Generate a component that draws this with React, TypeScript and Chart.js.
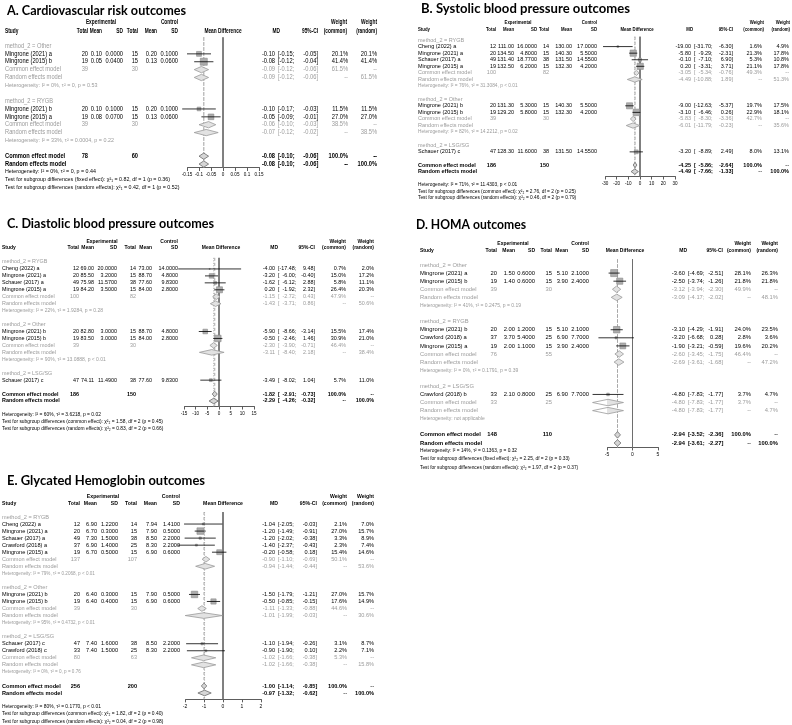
import React, { useEffect, useRef } from "react";
import { Chart, registerables } from "chart.js";

Chart.register(...registerables);

const W = 792;
const H = 725;
const FONT = '"Liberation Sans", Arial, Helvetica, sans-serif';
const TITLE_FONT = 'Lato, "Open Sans", sans-serif';
const BLACK = "#000000";
const GREY = "#9b9b9b";

// ---------------- A. Cardiovascular risk ----------------
const A_TITLE = "A. Cardiovascular risk outcomes";
const A_GROUPS = ["method_2 = Other", "method_2 = RYGB"];
const A_STUDY = ["Mingrone (2021) a", "Mingrone (2015) b", "Mingrone (2021) b", "Mingrone (2015) a"];
const A_GROUP_OF = [0, 0, 1, 1];
const A_N_E = [20, 19, 20, 19];
const A_MEAN_E = [0.1, 0.05, 0.1, 0.08];
const A_SD_E = [0.0, 0.04, 0.1, 0.07];
const A_N_C = [15, 15, 15, 15];
const A_MEAN_C = [0.2, 0.13, 0.2, 0.13];
const A_SD_C = [0.1, 0.06, 0.1, 0.06];
const A_MD = [-0.1, -0.08, -0.1, -0.05];
const A_LO = [-0.15, -0.12, -0.17, -0.09];
const A_HI = [-0.05, -0.04, -0.03, -0.01];
const A_W_COMMON = [20.1, 41.4, 11.5, 27.0];
const A_W_RANDOM = [20.1, 41.4, 11.5, 27.0];
const A_SUB_N_E = [39, 39];
const A_SUB_N_C = [30, 30];
const A_SUB_COMMON_MD = [-0.09, -0.06];
const A_SUB_COMMON_LO = [-0.12, -0.1];
const A_SUB_COMMON_HI = [-0.06, -0.03];
const A_SUB_COMMON_W = [61.5, 38.5];
const A_SUB_RANDOM_MD = [-0.09, -0.07];
const A_SUB_RANDOM_LO = [-0.12, -0.12];
const A_SUB_RANDOM_HI = [-0.06, -0.02];
const A_SUB_RANDOM_W = [61.5, 38.5];
const A_SUB_HET = ["Heterogeneity: I² = 0%, τ² = 0, p = 0.53", "Heterogeneity: I² = 33%, τ² = 0.0004, p = 0.22"];
const A_TOTAL = [78, 60];
const A_OVERALL_COMMON = [-0.08, -0.1, -0.06];
const A_OVERALL_RANDOM = [-0.08, -0.1, -0.06];
const A_NOTES = [
  "Heterogeneity: I² = 0%, τ² = 0, p = 0.44",
  "Test for subgroup differences (fixed effect): χ²₁ = 0.82, df = 1 (p = 0.36)",
  "Test for subgroup differences (random effects): χ²₁ = 0.42, df = 1 (p = 0.52)",
];
const A_TICKS = [-0.15, -0.1, -0.05, 0, 0.05, 0.1, 0.15];

// ---------------- B. Systolic blood pressure ----------------
const B_TITLE = "B. Systolic blood pressure outcomes";
const B_GROUPS = ["method_2 = RYGB", "method_2 = Other", "method_2 = LSG/SG"];
const B_STUDY = ["Cheng (2022) a", "Mingrone (2021) a", "Schauer (2017) a", "Mingrone (2015) a", "Mingrone (2021) b", "Mingrone (2015) b", "Schauer (2017) c"];
const B_GROUP_OF = [0, 0, 0, 0, 1, 1, 2];
const B_N_E = [12, 20, 49, 19, 20, 19, 47];
const B_MEAN_E = [111.0, 134.5, 131.4, 132.5, 131.3, 129.2, 128.3];
const B_SD_E = [16.0, 4.8, 18.77, 6.2, 5.3, 5.8, 11.6];
const B_N_C = [14, 15, 38, 15, 15, 15, 38];
const B_MEAN_C = [130.0, 140.3, 131.5, 132.3, 140.3, 132.3, 131.5];
const B_SD_C = [17.0, 5.5, 14.55, 4.2, 5.5, 4.2, 14.55];
const B_MD = [-19.0, -5.8, -0.1, 0.2, -9.0, -3.1, -3.2];
const B_LO = [-31.7, -9.29, -7.1, -3.31, -12.63, -6.46, -8.89];
const B_HI = [-6.3, -2.31, 6.9, 3.71, -5.37, 0.26, 2.49];
const B_W_COMMON = [1.6, 21.3, 5.3, 21.1, 19.7, 22.9, 8.0];
const B_W_RANDOM = [4.9, 17.8, 10.8, 17.8, 17.5, 18.1, 13.1];
const B_SUB_N_E = [100, 39, null];
const B_SUB_N_C = [82, 30, null];
const B_SUB_COMMON_MD = [-3.05, -5.83, null];
const B_SUB_COMMON_LO = [-5.34, -8.3, null];
const B_SUB_COMMON_HI = [-0.76, -3.36, null];
const B_SUB_COMMON_W = [49.3, 42.7, null];
const B_SUB_RANDOM_MD = [-4.49, -6.01, null];
const B_SUB_RANDOM_LO = [-10.88, -11.79, null];
const B_SUB_RANDOM_HI = [1.89, -0.23, null];
const B_SUB_RANDOM_W = [51.3, 35.6, null];
const B_SUB_HET = ["Heterogeneity: I² = 76%, τ² = 31.3084, p < 0.01", "Heterogeneity: I² = 82%, τ² = 14.2212, p = 0.02", null];
const B_TOTAL = [186, 150];
const B_OVERALL_COMMON = [-4.25, -5.86, -2.64];
const B_OVERALL_RANDOM = [-4.49, -7.66, -1.33];
const B_NOTES = [
  "Heterogeneity: I² = 71%, τ² = 11.4303, p < 0.01",
  "Test for subgroup differences (common effect): χ²₂ = 2.76, df = 2 (p = 0.25)",
  "Test for subgroup differences (random effects): χ²₂ = 0.46, df = 2 (p = 0.79)",
];
const B_TICKS = [-30, -20, -10, 0, 10, 20, 30];

// ---------------- C. Diastolic blood pressure ----------------
const C_TITLE = "C. Diastolic blood pressure outcomes";
const C_GROUPS = ["method_2 = RYGB", "method_2 = Other", "method_2 = LSG/SG"];
const C_STUDY = ["Cheng (2022) a", "Mingrone (2021) a", "Schauer (2017) a", "Mingrone (2015) a", "Mingrone (2021) b", "Mingrone (2015) b", "Schauer (2017) c"];
const C_GROUP_OF = [0, 0, 0, 0, 1, 1, 2];
const C_N_E = [12, 20, 49, 19, 20, 19, 47];
const C_MEAN_E = [69.0, 85.5, 75.98, 84.2, 82.8, 83.5, 74.11];
const C_SD_E = [20.0, 3.2, 11.57, 3.5, 3.0, 3.0, 11.49];
const C_N_C = [14, 15, 38, 15, 15, 15, 38];
const C_MEAN_C = [73.0, 88.7, 77.6, 84.0, 88.7, 84.0, 77.6];
const C_SD_C = [14.0, 4.8, 9.83, 2.8, 4.8, 2.8, 9.83];
const C_MD = [-4.0, -3.2, -1.62, 0.2, -5.9, -0.5, -3.49];
const C_LO = [-17.48, -6.0, -6.12, -1.92, -8.66, -2.46, -8.02];
const C_HI = [9.48, -0.4, 2.88, 2.32, -3.14, 1.46, 1.04];
const C_W_COMMON = [0.7, 15.0, 5.8, 26.4, 15.5, 30.9, 5.7];
const C_W_RANDOM = [2.0, 17.2, 11.1, 20.3, 17.4, 21.0, 11.0];
const C_SUB_N_E = [100, 39, null];
const C_SUB_N_C = [82, 30, null];
const C_SUB_COMMON_MD = [-1.15, -2.3, null];
const C_SUB_COMMON_LO = [-2.72, -3.9, null];
const C_SUB_COMMON_HI = [0.43, -0.71, null];
const C_SUB_COMMON_W = [47.9, 46.4, null];
const C_SUB_RANDOM_MD = [-1.43, -3.11, null];
const C_SUB_RANDOM_LO = [-3.71, -8.4, null];
const C_SUB_RANDOM_HI = [0.86, 2.18, null];
const C_SUB_RANDOM_W = [50.6, 38.4, null];
const C_SUB_HET = ["Heterogeneity: I² = 22%, τ² = 1.9284, p = 0.28", "Heterogeneity: I² = 90%, τ² = 13.0888, p < 0.01", null];
const C_TOTAL = [186, 150];
const C_OVERALL_COMMON = [-1.82, -2.91, -0.73];
const C_OVERALL_RANDOM = [-2.29, -4.26, -0.32];
const C_NOTES = [
  "Heterogeneity: I² = 60%, τ² = 3.6218, p = 0.02",
  "Test for subgroup differences (common effect): χ²₂ = 1.58, df = 2 (p = 0.45)",
  "Test for subgroup differences (random effects): χ²₂ = 0.83, df = 2 (p = 0.66)",
];
const C_TICKS = [-15, -10, -5, 0, 5, 10, 15];

// ---------------- D. HOMA ----------------
const D_TITLE = "D. HOMA outcomes";
const D_GROUPS = ["method_2 = Other", "method_2 = RYGB", "method_2 = LSG/SG"];
const D_STUDY = ["Mingrone (2021) a", "Mingrone (2015) b", "Mingrone (2021) b", "Crawford (2018) a", "Mingrone (2015) a", "Crawford (2018) b"];
const D_GROUP_OF = [0, 0, 1, 1, 1, 2];
const D_N_E = [20, 19, 20, 37, 19, 33];
const D_MEAN_E = [1.5, 1.4, 2.0, 3.7, 2.0, 2.1];
const D_SD_E = [0.6, 0.6, 1.2, 5.4, 1.1, 0.8];
const D_N_C = [15, 15, 15, 25, 15, 25];
const D_MEAN_C = [5.1, 3.9, 5.1, 6.9, 3.9, 6.9];
const D_SD_C = [2.1, 2.4, 2.1, 7.7, 2.4, 7.7];
const D_MD = [-3.6, -2.5, -3.1, -3.2, -1.9, -4.8];
const D_LO = [-4.69, -3.74, -4.29, -6.68, -3.21, -7.83];
const D_HI = [-2.51, -1.26, -1.91, 0.28, -0.59, -1.77];
const D_W_COMMON = [28.1, 21.8, 24.0, 2.8, 19.6, 3.7];
const D_W_RANDOM = [26.3, 21.8, 23.5, 3.6, 20.2, 4.7];
const D_SUB_N_E = [39, 76, 33];
const D_SUB_N_C = [30, 55, 25];
const D_SUB_COMMON_MD = [-3.12, -2.6, -4.8];
const D_SUB_COMMON_LO = [-3.94, -3.45, -7.83];
const D_SUB_COMMON_HI = [-2.3, -1.75, -1.77];
const D_SUB_COMMON_W = [49.9, 46.4, 3.7];
const D_SUB_RANDOM_MD = [-3.09, -2.69, -4.8];
const D_SUB_RANDOM_LO = [-4.17, -3.61, -7.83];
const D_SUB_RANDOM_HI = [-2.02, -1.68, -1.77];
const D_SUB_RANDOM_W = [48.1, 47.2, 4.7];
const D_SUB_HET = ["Heterogeneity: I² = 41%, τ² = 0.2475, p = 0.19", "Heterogeneity: I² = 0%, τ² = 0.1791, p = 0.39", "Heterogeneity: not applicable"];
const D_TOTAL = [148, 110];
const D_OVERALL_COMMON = [-2.94, -3.52, -2.36];
const D_OVERALL_RANDOM = [-2.94, -3.61, -2.27];
const D_NOTES = [
  "Heterogeneity: I² = 14%, τ² = 0.1363, p = 0.32",
  "Test for subgroup differences (fixed effect): χ²₂ = 2.25, df = 2 (p = 0.33)",
  "Test for subgroup differences (random effects): χ²₂ = 1.97, df = 2 (p = 0.37)",
];
const D_TICKS = [-5, 0, 5];

// ---------------- E. Glycated Hemoglobin ----------------
const E_TITLE = "E. Glycated Hemoglobin outcomes";
const E_GROUPS = ["method_2 = RYGB", "method_2 = Other", "method_2 = LSG/SG"];
const E_STUDY = ["Cheng (2022) a", "Mingrone (2021) a", "Schauer (2017) a", "Crawford (2018) a", "Mingrone (2015) a", "Mingrone (2021) b", "Mingrone (2015) b", "Schauer (2017) c", "Crawford (2018) c"];
const E_GROUP_OF = [0, 0, 0, 0, 0, 1, 1, 2, 2];
const E_N_E = [12, 20, 49, 37, 19, 20, 19, 47, 33];
const E_MEAN_E = [6.9, 6.7, 7.3, 6.9, 6.7, 6.4, 6.4, 7.4, 7.4];
const E_SD_E = [1.22, 0.3, 1.5, 1.4, 0.5, 0.3, 0.4, 1.6, 1.5];
const E_N_C = [14, 15, 38, 25, 15, 15, 15, 38, 25];
const E_MEAN_C = [7.94, 7.9, 8.5, 8.3, 6.9, 7.9, 6.9, 8.5, 8.3];
const E_SD_C = [1.41, 0.5, 2.2, 2.2, 0.6, 0.5, 0.6, 2.2, 2.2];
const E_MD = [-1.04, -1.2, -1.2, -1.4, -0.2, -1.5, -0.5, -1.1, -0.9];
const E_LO = [-2.05, -1.49, -2.02, -2.37, -0.58, -1.79, -0.85, -1.94, -1.9];
const E_HI = [-0.03, -0.91, -0.38, -0.43, 0.18, -1.21, -0.15, -0.26, 0.1];
const E_W_COMMON = [2.1, 27.0, 3.3, 2.3, 15.4, 27.0, 17.6, 3.1, 2.2];
const E_W_RANDOM = [7.0, 15.7, 8.9, 7.4, 14.6, 15.7, 14.9, 8.7, 7.1];
const E_SUB_N_E = [137, 39, 80];
const E_SUB_N_C = [107, 30, 63];
const E_SUB_COMMON_MD = [-0.9, -1.11, -1.02];
const E_SUB_COMMON_LO = [-1.1, -1.33, -1.66];
const E_SUB_COMMON_HI = [-0.69, -0.88, -0.38];
const E_SUB_COMMON_W = [50.1, 44.6, 5.3];
const E_SUB_RANDOM_MD = [-0.94, -1.01, -1.02];
const E_SUB_RANDOM_LO = [-1.44, -1.99, -1.66];
const E_SUB_RANDOM_HI = [-0.44, -0.03, -0.38];
const E_SUB_RANDOM_W = [53.6, 30.6, 15.8];
const E_SUB_HET = ["Heterogeneity: I² = 79%, τ² = 0.2068, p < 0.01", "Heterogeneity: I² = 95%, τ² = 0.4732, p < 0.01", "Heterogeneity: I² = 0%, τ² = 0, p = 0.76"];
const E_TOTAL = [256, 200];
const E_OVERALL_COMMON = [-1.0, -1.14, -0.85];
const E_OVERALL_RANDOM = [-0.97, -1.32, -0.62];
const E_NOTES = [
  "Heterogeneity: I² = 80%, τ² = 0.1770, p < 0.01",
  "Test for subgroup differences (common effect): χ²₂ = 1.82, df = 2 (p = 0.40)",
  "Test for subgroup differences (random effects): χ²₂ = 0.04, df = 2 (p = 0.98)",
];
const E_TICKS = [-2, -1, 0, 1, 2];

// ---------------- layouts (page pixel positions) ----------------
const A_LAYOUT = {
  titleX: 7, titleY: 11, titleW: 179, hdr1Y: 22, hdr2Y: 31, row0Y: 46, pitch: 7.87,
  fs: 6.3, sx: 0.91, hdrSx: 0.84, hetFs: 5.4, noteFs: 5.3, tickFs: 4.6, yMin: -1.1, yMax: 15.5, hetGap: 0, axisH: 12,
  xStudy: 5, xNE: 88, xME: 102, xSDE: 123, xNC: 138, xMC: 157, xSDC: 178, xExpHdr: 101, xCtrlHdr: 178,
  plotL: 187, plotR: 259, xMDHdr: 223, xMD: 275, xMDH: 280, xCIL: 278, xCIR: 318, xWC: 348, xWR: 377, xWCH: 347, xWRH: 377,
  maxSide: 7,
};
const B_LAYOUT = {
  titleX: 421, titleY: 9, titleW: 209, hdr1Y: 22, hdr2Y: 29, row0Y: 40, pitch: 6.58,
  fs: 5.5, sx: 1, hdrSx: 0.78, hetFs: 4.8, noteFs: 4.8, tickFs: 4.6, yMin: -0.5, yMax: 20.75, hetGap: 1, axisH: 12,
  xStudy: 418, xNE: 496, xME: 514, xSDE: 537, xNC: 549, xMC: 572, xSDC: 597, xExpHdr: 518, xCtrlHdr: 597,
  plotL: 605, plotR: 675, xMDHdr: 637, xMD: 691, xMDH: 693, xCIL: 694, xCIR: 733, xWC: 762, xWR: 789, xWCH: 764, xWRH: 790,
  maxSide: 6.5,
};
const C_LAYOUT = {
  titleX: 7, titleY: 224, titleW: 207, hdr1Y: 242, hdr2Y: 248, row0Y: 262, pitch: 6.95,
  fs: 5.4, sx: 1, hdrSx: 0.92, hetFs: 5.0, noteFs: 4.9, tickFs: 4.6, yMin: -0.6, yMax: 20.8, hetGap: 1, axisH: 12,
  xStudy: 2, xNE: 79, xME: 94, xSDE: 117, xNC: 136, xMC: 152, xSDC: 178, xExpHdr: 102, xCtrlHdr: 178,
  plotL: 184, plotR: 254, xMDHdr: 221, xMD: 275, xMDH: 278, xCIL: 278, xCIR: 315, xWC: 346, xWR: 374, xWCH: 346, xWRH: 374,
  maxSide: 6.5,
};
const D_LAYOUT = {
  titleX: 416, titleY: 225, titleW: 110, hdr1Y: 243, hdr2Y: 250, row0Y: 265, pitch: 8.09,
  fs: 5.8, sx: 1, hdrSx: 0.86, hetFs: 5.0, noteFs: 4.8, tickFs: 5, yMin: -0.7, yMax: 22.55, hetGap: 0, axisH: 12,
  xStudy: 420, xNE: 497, xME: 515, xSDE: 535, xNC: 552, xMC: 568, xSDC: 589, xExpHdr: 513, xCtrlHdr: 589,
  plotL: 607, plotR: 658, xMDHdr: 625, xMD: 685, xMDH: 687, xCIL: 688, xCIR: 723, xWC: 751, xWR: 778, xWCH: 751, xWRH: 778,
  maxSide: 7,
};
const E_LAYOUT = {
  titleX: 7, titleY: 481, titleW: 198, hdr1Y: 496, hdr2Y: 503, row0Y: 517, pitch: 7.04,
  fs: 5.6, sx: 1, hdrSx: 0.92, hetFs: 4.6, noteFs: 4.9, tickFs: 5, yMin: -0.7, yMax: 25.9, hetGap: 1, axisH: 12,
  xStudy: 2, xNE: 80, xME: 97, xSDE: 118, xNC: 137, xMC: 157, xSDC: 180, xExpHdr: 103, xCtrlHdr: 180,
  plotL: 185, plotR: 261, xMDHdr: 223, xMD: 275, xMDH: 278, xCIL: 278, xCIR: 317, xWC: 347, xWR: 374, xWCH: 347, xWRH: 374,
  maxSide: 6.5,
};

const PANELS: any[] = [
  { key: "A", title: A_TITLE, groups: A_GROUPS, study: A_STUDY, groupOf: A_GROUP_OF, nE: A_N_E, meanE: A_MEAN_E, sdE: A_SD_E, nC: A_N_C, meanC: A_MEAN_C, sdC: A_SD_C, md: A_MD, lo: A_LO, hi: A_HI, wC: A_W_COMMON, wR: A_W_RANDOM, subNE: A_SUB_N_E, subNC: A_SUB_N_C, subC: [A_SUB_COMMON_MD, A_SUB_COMMON_LO, A_SUB_COMMON_HI, A_SUB_COMMON_W], subR: [A_SUB_RANDOM_MD, A_SUB_RANDOM_LO, A_SUB_RANDOM_HI, A_SUB_RANDOM_W], subHet: A_SUB_HET, total: A_TOTAL, allC: A_OVERALL_COMMON, allR: A_OVERALL_RANDOM, notes: A_NOTES, ticks: A_TICKS, L: A_LAYOUT },
  { key: "B", title: B_TITLE, groups: B_GROUPS, study: B_STUDY, groupOf: B_GROUP_OF, nE: B_N_E, meanE: B_MEAN_E, sdE: B_SD_E, nC: B_N_C, meanC: B_MEAN_C, sdC: B_SD_C, md: B_MD, lo: B_LO, hi: B_HI, wC: B_W_COMMON, wR: B_W_RANDOM, subNE: B_SUB_N_E, subNC: B_SUB_N_C, subC: [B_SUB_COMMON_MD, B_SUB_COMMON_LO, B_SUB_COMMON_HI, B_SUB_COMMON_W], subR: [B_SUB_RANDOM_MD, B_SUB_RANDOM_LO, B_SUB_RANDOM_HI, B_SUB_RANDOM_W], subHet: B_SUB_HET, total: B_TOTAL, allC: B_OVERALL_COMMON, allR: B_OVERALL_RANDOM, notes: B_NOTES, ticks: B_TICKS, L: B_LAYOUT },
  { key: "C", title: C_TITLE, groups: C_GROUPS, study: C_STUDY, groupOf: C_GROUP_OF, nE: C_N_E, meanE: C_MEAN_E, sdE: C_SD_E, nC: C_N_C, meanC: C_MEAN_C, sdC: C_SD_C, md: C_MD, lo: C_LO, hi: C_HI, wC: C_W_COMMON, wR: C_W_RANDOM, subNE: C_SUB_N_E, subNC: C_SUB_N_C, subC: [C_SUB_COMMON_MD, C_SUB_COMMON_LO, C_SUB_COMMON_HI, C_SUB_COMMON_W], subR: [C_SUB_RANDOM_MD, C_SUB_RANDOM_LO, C_SUB_RANDOM_HI, C_SUB_RANDOM_W], subHet: C_SUB_HET, total: C_TOTAL, allC: C_OVERALL_COMMON, allR: C_OVERALL_RANDOM, notes: C_NOTES, ticks: C_TICKS, L: C_LAYOUT },
  { key: "D", title: D_TITLE, groups: D_GROUPS, study: D_STUDY, groupOf: D_GROUP_OF, nE: D_N_E, meanE: D_MEAN_E, sdE: D_SD_E, nC: D_N_C, meanC: D_MEAN_C, sdC: D_SD_C, md: D_MD, lo: D_LO, hi: D_HI, wC: D_W_COMMON, wR: D_W_RANDOM, subNE: D_SUB_N_E, subNC: D_SUB_N_C, subC: [D_SUB_COMMON_MD, D_SUB_COMMON_LO, D_SUB_COMMON_HI, D_SUB_COMMON_W], subR: [D_SUB_RANDOM_MD, D_SUB_RANDOM_LO, D_SUB_RANDOM_HI, D_SUB_RANDOM_W], subHet: D_SUB_HET, total: D_TOTAL, allC: D_OVERALL_COMMON, allR: D_OVERALL_RANDOM, notes: D_NOTES, ticks: D_TICKS, L: D_LAYOUT },
  { key: "E", title: E_TITLE, groups: E_GROUPS, study: E_STUDY, groupOf: E_GROUP_OF, nE: E_N_E, meanE: E_MEAN_E, sdE: E_SD_E, nC: E_N_C, meanC: E_MEAN_C, sdC: E_SD_C, md: E_MD, lo: E_LO, hi: E_HI, wC: E_W_COMMON, wR: E_W_RANDOM, subNE: E_SUB_N_E, subNC: E_SUB_N_C, subC: [E_SUB_COMMON_MD, E_SUB_COMMON_LO, E_SUB_COMMON_HI, E_SUB_COMMON_W], subR: [E_SUB_RANDOM_MD, E_SUB_RANDOM_LO, E_SUB_RANDOM_HI, E_SUB_RANDOM_W], subHet: E_SUB_HET, total: E_TOTAL, allC: E_OVERALL_COMMON, allR: E_OVERALL_RANDOM, notes: E_NOTES, ticks: E_TICKS, L: E_LAYOUT },
];

// ---------------- helpers ----------------
function buildRows(p: any) {
  const rows: any[] = [];
  let r = 0;
  p.groups.forEach((_g: string, gi: number) => {
    rows.push({ kind: "group", r: r++, gi });
    p.groupOf.forEach((go: number, si: number) => {
      if (go === gi) rows.push({ kind: "study", r: r++, si });
    });
    if (p.subC[0][gi] != null) {
      rows.push({ kind: "subC", r: r++, gi });
      rows.push({ kind: "subR", r: r++, gi });
      rows.push({ kind: "subHet", r: r++, gi });
    }
    r++;
  });
  rows.push({ kind: "allC", r: r++ });
  rows.push({ kind: "allR", r: r++ });
  r += p.L.hetGap;
  p.notes.forEach((_n: string, ni: number) => rows.push({ kind: "note", r: r++, ni }));
  return rows;
}

function setFont(ctx: CanvasRenderingContext2D, size: number, bold: boolean, family = FONT) {
  ctx.font = `${bold ? "bold " : ""}${size}px ${family}`;
}

function drawT(ctx: CanvasRenderingContext2D, s: string, x: number, y: number, align: CanvasTextAlign, size: number, color: string, bold: boolean, sx: number, family = FONT) {
  ctx.save();
  setFont(ctx, size, bold, family);
  ctx.fillStyle = color;
  ctx.textAlign = align;
  ctx.textBaseline = "middle";
  ctx.translate(x, y);
  ctx.scale(sx, 1);
  ctx.fillText(s, 0, 0);
  ctx.restore();
}

const pct = (v: number) => v.toFixed(1) + "%";

function ForestPanel({ p }: { p: any }) {
  const ref = useRef<HTMLCanvasElement | null>(null);
  useEffect(() => {
    const L = p.L;
    const rows = buildRows(p);
    const top = L.row0Y + L.yMin * L.pitch;
    const bottom = L.row0Y + L.yMax * L.pitch;
    const datasets: any[] = [];

    const vline = (x: number, dash: number[], color: string) => ({
      type: "line",
      data: [{ x, y: L.yMin }, { x, y: L.yMax }],
      borderColor: color,
      borderWidth: 1,
      borderDash: dash,
      pointRadius: 0,
      fill: false,
      clip: false,
      order: 10,
    });
    datasets.push(vline(0, [], "#6e6e6e"));
    datasets.push(vline(p.allC[0], [3, 2], "#a8a8a8"));
    datasets.push(vline(p.allR[0], [1, 1.5], "#a8a8a8"));

    const wMax = Math.max(...p.wC);
    const sq: any[] = [];
    const radii: number[] = [];
    rows.filter((row) => row.kind === "study").forEach((row) => {
      const i = row.si;
      datasets.push({
        type: "line",
        data: [{ x: p.lo[i], y: row.r }, { x: p.hi[i], y: row.r }],
        borderColor: "#000000",
        borderWidth: 0.8,
        pointRadius: 0,
        fill: false,
        clip: false,
        order: 1,
      });
      sq.push({ x: p.md[i], y: row.r });
      radii.push((L.maxSide * Math.sqrt(p.wC[i] / wMax)) / Math.SQRT2);
    });
    datasets.push({
      type: "scatter",
      data: sq,
      pointStyle: "rect",
      pointRadius: radii,
      backgroundColor: "#adadad",
      borderColor: "#8a8a8a",
      borderWidth: 0.6,
      clip: false,
      order: 2,
    });

    const diamond = (md: number, lo: number, hi: number, r: number, fillC: string, stroke: string) => ({
      type: "line",
      data: [{ x: lo, y: r }, { x: md, y: r - 0.4 }, { x: hi, y: r }, { x: md, y: r + 0.4 }, { x: lo, y: r }],
      fill: "shape",
      backgroundColor: fillC,
      borderColor: stroke,
      borderWidth: 0.8,
      pointRadius: 0,
      tension: 0,
      clip: false,
      order: 5,
    });
    rows.forEach((row) => {
      if (row.kind === "subC") {
        const g = row.gi;
        datasets.push(diamond(p.subC[0][g], p.subC[1][g], p.subC[2][g], row.r, "#e2e2e2", "#9a9a9a"));
      } else if (row.kind === "subR") {
        const g = row.gi;
        datasets.push(diamond(p.subR[0][g], p.subR[1][g], p.subR[2][g], row.r, "#e2e2e2", "#9a9a9a"));
      } else if (row.kind === "allC") {
        datasets.push(diamond(p.allC[0], p.allC[1], p.allC[2], row.r, "#d6d6d6", "#6a6a6a"));
      } else if (row.kind === "allR") {
        datasets.push(diamond(p.allR[0], p.allR[1], p.allR[2], row.r, "#d6d6d6", "#6a6a6a"));
      }
    });

    const textPlugin = {
      id: "forestText" + p.key,
      afterDraw(chart: any) {
        const ctx: CanvasRenderingContext2D = chart.ctx;
        const ys = chart.scales.y;
        const Y = (r: number) => ys.getPixelForValue(r);
        const T = (s: string, x: number, y: number, align: CanvasTextAlign, color = BLACK, bold = false, size = L.fs) =>
          drawT(ctx, s, x, y, align, size, color, bold, L.sx);
        const HD = (s: string, x: number, y: number, align: CanvasTextAlign) =>
          drawT(ctx, s, x, y, align, L.fs, BLACK, true, L.sx * L.hdrSx);

        // title
        ctx.save();
        setFont(ctx, 13.5, true, TITLE_FONT);
        const tw = ctx.measureText(p.title).width;
        ctx.restore();
        drawT(ctx, p.title, L.titleX, L.titleY, "left", 13.5, BLACK, true, L.titleW / tw, TITLE_FONT);

        // headers
        HD("Experimental", L.xExpHdr, L.hdr1Y, "center");
        HD("Control", L.xCtrlHdr, L.hdr1Y, "right");
        HD("Weight", L.xWCH, L.hdr1Y, "right");
        HD("Weight", L.xWRH, L.hdr1Y, "right");
        HD("Study", L.xStudy, L.hdr2Y, "left");
        HD("Total", L.xNE, L.hdr2Y, "right");
        HD("Mean", L.xME, L.hdr2Y, "right");
        HD("SD", L.xSDE, L.hdr2Y, "right");
        HD("Total", L.xNC, L.hdr2Y, "right");
        HD("Mean", L.xMC, L.hdr2Y, "right");
        HD("SD", L.xSDC, L.hdr2Y, "right");
        HD("Mean Difference", L.xMDHdr, L.hdr2Y, "center");
        HD("MD", L.xMDH, L.hdr2Y, "right");
        HD("95%-CI", L.xCIR, L.hdr2Y, "right");
        HD("(common)", L.xWCH, L.hdr2Y, "right");
        HD("(random)", L.xWRH, L.hdr2Y, "right");

        // CI column geometry
        ctx.save();
        setFont(ctx, L.fs, false);
        const allLo: number[] = [...p.lo, p.allC[1], p.allR[1]];
        p.subC[1].forEach((v: number | null) => v != null && allLo.push(v));
        p.subR[1].forEach((v: number | null) => v != null && allLo.push(v));
        const loW = Math.max(...allLo.map((v) => ctx.measureText(v.toFixed(2)).width)) * L.sx;
        const brW = ctx.measureText("[").width * L.sx;
        const brRW = ctx.measureText("]").width * L.sx;
        ctx.restore();
        const loR = L.xCIL + brW + loW;
        const hiR = L.xCIR - brRW;
        const CI = (md: number, lo: number, hi: number, y: number, color: string, bold: boolean) => {
          T(md.toFixed(2), L.xMD, y, "right", color, bold);
          T("[", L.xCIL, y, "left", color, bold);
          T(lo.toFixed(2), loR, y, "right", color, bold);
          T(";", loR, y, "left", color, bold);
          T(hi.toFixed(2), hiR, y, "right", color, bold);
          T("]", hiR, y, "left", color, bold);
        };

        rows.forEach((row) => {
          const y = Y(row.r);
          if (row.kind === "group") {
            T(p.groups[row.gi], L.xStudy, y, "left", GREY);
          } else if (row.kind === "study") {
            const i = row.si;
            T(p.study[i], L.xStudy, y, "left");
            T(String(p.nE[i]), L.xNE, y, "right");
            T(p.meanE[i].toFixed(2), L.xME, y, "right");
            T(p.sdE[i].toFixed(4), L.xSDE, y, "right");
            T(String(p.nC[i]), L.xNC, y, "right");
            T(p.meanC[i].toFixed(2), L.xMC, y, "right");
            T(p.sdC[i].toFixed(4), L.xSDC, y, "right");
            CI(p.md[i], p.lo[i], p.hi[i], y, BLACK, false);
            T(pct(p.wC[i]), L.xWC, y, "right");
            T(pct(p.wR[i]), L.xWR, y, "right");
          } else if (row.kind === "subC") {
            const g = row.gi;
            T("Common effect model", L.xStudy, y, "left", GREY);
            T(String(p.subNE[g]), L.xNE, y, "right", GREY);
            T(String(p.subNC[g]), L.xNC, y, "right", GREY);
            CI(p.subC[0][g], p.subC[1][g], p.subC[2][g], y, GREY, false);
            T(pct(p.subC[3][g]), L.xWC, y, "right", GREY);
            T("--", L.xWR, y, "right", GREY);
          } else if (row.kind === "subR") {
            const g = row.gi;
            T("Random effects model", L.xStudy, y, "left", GREY);
            CI(p.subR[0][g], p.subR[1][g], p.subR[2][g], y, GREY, false);
            T("--", L.xWC, y, "right", GREY);
            T(pct(p.subR[3][g]), L.xWR, y, "right", GREY);
          } else if (row.kind === "subHet") {
            drawT(ctx, p.subHet[row.gi], L.xStudy, y, "left", L.hetFs, GREY, false, 1);
          } else if (row.kind === "allC") {
            T("Common effect model", L.xStudy, y, "left", BLACK, true);
            T(String(p.total[0]), L.xNE, y, "right", BLACK, true);
            T(String(p.total[1]), L.xNC, y, "right", BLACK, true);
            CI(p.allC[0], p.allC[1], p.allC[2], y, BLACK, true);
            T("100.0%", L.xWC, y, "right", BLACK, true);
            T("--", L.xWR, y, "right", BLACK, true);
          } else if (row.kind === "allR") {
            T("Random effects model", L.xStudy, y, "left", BLACK, true);
            CI(p.allR[0], p.allR[1], p.allR[2], y, BLACK, true);
            T("--", L.xWC, y, "right", BLACK, true);
            T("100.0%", L.xWR, y, "right", BLACK, true);
          } else if (row.kind === "note") {
            drawT(ctx, p.notes[row.ni], L.xStudy, y, "left", L.noteFs, BLACK, false, 1);
          }
        });
      },
    };

    const chart = new Chart(ref.current as HTMLCanvasElement, {
      type: "scatter",
      data: { datasets },
      options: {
        animation: false,
        responsive: false,
        events: [],
        layout: {
          padding: { left: L.plotL, right: W - L.plotR, top, bottom: H - bottom - L.axisH },
        },
        plugins: { legend: { display: false }, tooltip: { enabled: false }, title: { display: false } },
        scales: {
          x: {
            type: "linear",
            position: "bottom",
            min: p.ticks[0],
            max: p.ticks[p.ticks.length - 1],
            afterBuildTicks: (ax: any) => {
              ax.ticks = p.ticks.map((v: number) => ({ value: v }));
            },
            afterFit: (ax: any) => {
              ax.height = L.axisH;
            },
            ticks: {
              autoSkip: false,
              maxRotation: 0,
              minRotation: 0,
              padding: 1,
              color: "#000000",
              font: { family: FONT, size: L.tickFs },
              callback: (v: any) => String(v),
            },
            grid: { display: true, drawOnChartArea: false, drawTicks: true, tickLength: 3, color: "#333333", lineWidth: 0.8 },
            border: { display: true, color: "#333333", width: 0.8 },
          },
          y: { type: "linear", display: false, reverse: true, min: L.yMin, max: L.yMax },
        },
      } as any,
      plugins: [textPlugin],
    } as any);
    return () => chart.destroy();
  }, [p]);
  return (
    <canvas
      ref={ref}
      width={W}
      height={H}
      style={{ position: "absolute", left: 0, top: 0, width: W, height: H }}
    />
  );
}

export default function App() {
  return (
    <div style={{ position: "absolute", left: 0, top: 0, width: W, height: H, background: "#ffffff", overflow: "hidden" }}>
      {PANELS.map((p) => (
        <ForestPanel key={p.key} p={p} />
      ))}
    </div>
  );
}
